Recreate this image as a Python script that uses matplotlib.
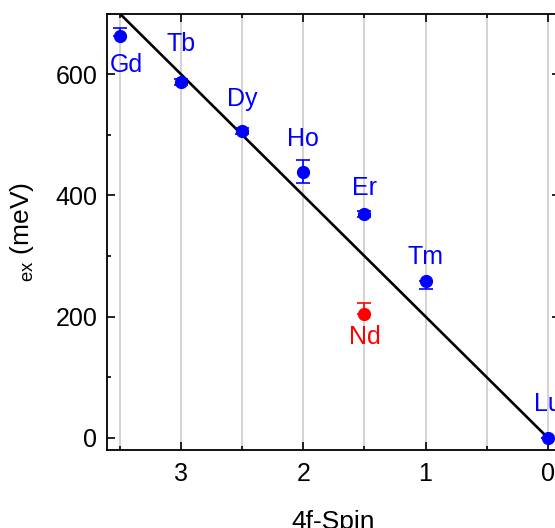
import matplotlib
matplotlib.use("Agg")
import matplotlib.pyplot as plt
from matplotlib.ticker import MultipleLocator

plt.rcParams['font.family'] = ['Liberation Sans', 'DejaVu Sans']
plt.rcParams['mathtext.fontset'] = 'custom'
plt.rcParams['mathtext.rm'] = 'Liberation Sans'

# data
elements = ['Gd', 'Tb', 'Dy', 'Ho', 'Er', 'Tm', 'Lu']
spin = [3.5, 3.0, 2.5, 2.0, 1.5, 1.0, 0.0]
energy = [663, 587, 506, 438, 370, 258, 0]
err_lo = [0, 5, 5, 18, 5, 12, 0]
err_hi = [13, 5, 5, 20, 5, 0, 0]

nd_spin = [1.5]
nd_energy = [205]
nd_lo = [0]
nd_hi = [17]

# label positions (data coords)
lab_x = [3.45, 3.0, 2.5, 2.0, 1.5, 1.0, 0.0]
lab_y = [615, 650, 560, 493, 412, 299, 56]
nd_lab = (1.5, 167)

fit_x = [3.5, 0.0]
fit_slope = 200

fig = plt.figure(figsize=(5.55, 5.28), dpi=100)
ax = fig.add_axes([0.193, 0.148, 0.816, 0.826])

ax.plot(fit_x, [fit_slope * s for s in fit_x], color='black', lw=1.9, zorder=3)

ax.errorbar(spin, energy, yerr=[err_lo, err_hi], fmt='o', color='blue',
            ms=8.5, capsize=5, elinewidth=1.2, capthick=1.2, zorder=4)
ax.errorbar(nd_spin, nd_energy, yerr=[nd_lo, nd_hi], fmt='o', color='red',
            ms=8.5, capsize=5, elinewidth=1.2, capthick=1.2, zorder=4)

for name, x, y in zip(elements, lab_x, lab_y):
    ax.text(x, y, name, color='blue', fontsize=18, ha='center', va='center')
ax.text(nd_lab[0], nd_lab[1], 'Nd', color='red', fontsize=18, ha='center', va='center')

ax.set_xlim(3.605, -0.1)
ax.set_ylim(-20, 700)

ax.xaxis.set_major_locator(MultipleLocator(1))
ax.xaxis.set_minor_locator(MultipleLocator(0.5))
ax.yaxis.set_major_locator(MultipleLocator(200))
ax.yaxis.set_minor_locator(MultipleLocator(100))

ax.grid(True, which='both', axis='x', color='#cccccc', lw=1.2, zorder=0)

ax.tick_params(which='both', direction='in', top=True, right=True, labelsize=18, width=1.2)
ax.tick_params(which='major', length=6)
ax.tick_params(which='minor', length=3)
ax.tick_params(axis='x', pad=9)
ax.tick_params(axis='y', pad=7)
for sp in ax.spines.values():
    sp.set_linewidth(1.3)

ax.set_xlabel('4f-Spin', fontsize=19, labelpad=17)
ax.set_ylabel(r'$_{\mathrm{ex}}$ (meV)', fontsize=19, labelpad=14)

fig.savefig('out.png', dpi=100)
